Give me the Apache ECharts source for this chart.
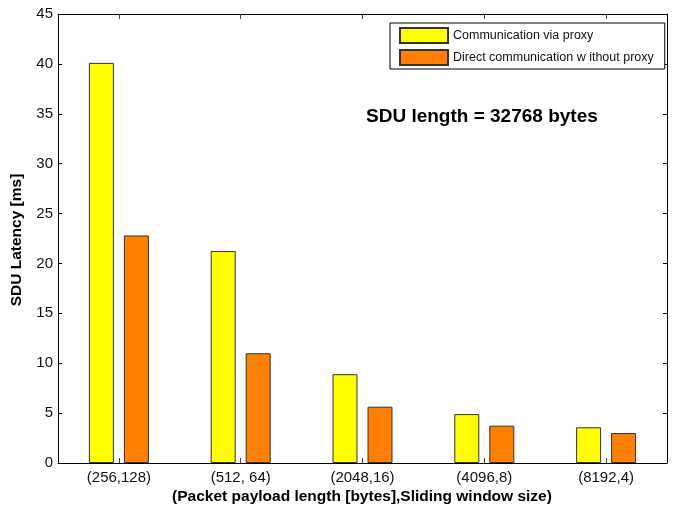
<!DOCTYPE html>
<html>
<head>
<meta charset="utf-8">
<script src="https://cdn.jsdelivr.net/npm/echarts@6/dist/echarts.min.js"></script>
<style>
html,body{margin:0;padding:0;background:#fff;}
#chart{width:675px;height:506px;}
</style>
</head>
<body>
<div id="chart"></div>
<script>
// Packet payload length / sliding window size pairs
const categories = ['(256,128)', '(512, 64)', '(2048,16)', '(4096,8)', '(8192,4)'];
// SDU latency in ms
const viaProxy = [40.1, 21.25, 8.9, 4.9, 3.58];
const directNoProxy = [22.8, 11.0, 5.64, 3.74, 3.0];
const seriesNames = ['Communication via proxy', 'Direct communication w ithout proxy'];
const yTicks = { min: 0, max: 45, interval: 5 };

const font = 'Liberation Sans, Arial, sans-serif';
const chart = echarts.init(document.getElementById('chart'));

const valueAxis = (pos, showLabels) => ({
  type: 'value',
  position: pos,
  min: yTicks.min, max: yTicks.max, interval: yTicks.interval,
  axisLine: { show: true, onZero: false, lineStyle: { color: '#000', width: 1 } },
  axisTick: { show: true, inside: true, length: 4, lineStyle: { color: '#000' } },
  axisLabel: { show: showLabels, color: '#111', fontSize: 15, fontFamily: font, margin: 5 },
  splitLine: { show: false }
});

const catAxis = (pos, showLabels) => ({
  type: 'category',
  position: pos,
  data: categories,
  axisLine: { show: true, onZero: false, lineStyle: { color: '#000', width: 1 } },
  axisTick: { show: true, inside: true, length: 5, alignWithLabel: true, lineStyle: { color: '#444' } },
  axisLabel: { show: showLabels, color: '#111', fontSize: 15, fontFamily: font, margin: 7 }
});

chart.setOption({
  animation: false,
  backgroundColor: '#fff',
  grid: { left: 58, right: 8, top: 14, bottom: 43, containLabel: false },
  legend: {
    orient: 'vertical',
    left: 390, top: 23,
    padding: [4, 11, 3, 9],
    itemWidth: 48, itemHeight: 15, itemGap: 5,
    borderColor: '#000', borderWidth: 1,
    backgroundColor: '#fff',
    textStyle: { fontSize: 12.5, fontFamily: font, color: '#111' },
    icon: 'rect',
    data: seriesNames
  },
  xAxis: [catAxis('bottom', true), catAxis('top', false)],
  yAxis: [valueAxis('left', true), valueAxis('right', false)],
  graphic: [
    {
      type: 'text', x: 366, y: 117,
      style: { text: 'SDU length = 32768 bytes', font: 'bold 19px ' + font, fill: '#000', verticalAlign: 'middle' }
    },
    {
      type: 'text', x: 362, y: 497,
      style: { text: '(Packet payload length [bytes],Sliding window size)', font: 'bold 15.5px ' + font, fill: '#000', align: 'center', verticalAlign: 'middle' }
    },
    {
      type: 'text', x: 17, y: 240, rotation: Math.PI / 2,
      style: { text: 'SDU Latency [ms]', font: 'bold 15.5px ' + font, fill: '#000', align: 'center', verticalAlign: 'middle' }
    }
  ],
  series: [
    {
      name: seriesNames[0], type: 'bar', data: viaProxy,
      barWidth: 25, barGap: '40%',
      itemStyle: { color: '#FFFF00', borderColor: '#333', borderWidth: 1 }
    },
    {
      name: seriesNames[1], type: 'bar', data: directNoProxy,
      barWidth: 25, barGap: '40%',
      itemStyle: { color: '#FF8000', borderColor: '#333', borderWidth: 1 }
    }
  ]
});
</script>
</body>
</html>
